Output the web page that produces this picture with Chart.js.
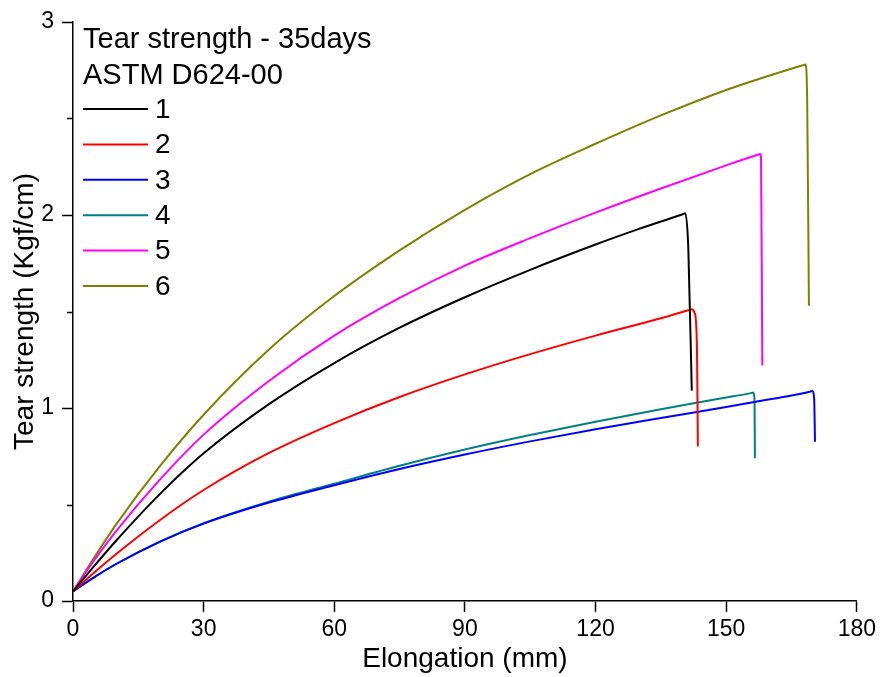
<!DOCTYPE html>
<html>
<head>
<meta charset="utf-8">
<script src="https://cdn.jsdelivr.net/npm/chart.js@4/dist/chart.umd.min.js"></script>
<style>
    html, body { margin: 0; padding: 0; background: #fff; }
    #wrap { width: 880px; height: 677px; }
</style>
</head>
<body>
<div id="wrap"><canvas id="tearChart"></canvas></div>
<script>
// Values (elongation mm / tear strength Kgf/cm)
const legendTitle = ['Tear strength - 35days', 'ASTM D624-00'];
const seriesNames = ['1', '2', '3', '4', '5', '6'];
const seriesColors = ['#000000', '#ff0000', '#0000ff', '#008080', '#ff00ff', '#808000'];

const xTicks = [0, 30, 60, 90, 120, 150, 180];
const yTicks = [0, 1, 2, 3];
const yMinorTicks = [0.5, 1.5, 2.5];

const elong1 = [0, 5, 10, 20, 30, 45, 60, 75, 90, 105, 120, 130, 140.0, 140.6, 141.3, 142.1];
const tear1  = [0.05, 0.185, 0.315, 0.555, 0.765, 1.02, 1.233, 1.416, 1.574, 1.716, 1.847, 1.928, 2.004, 2.009, 1.83, 1.09];

const elong2 = [0, 5, 10, 20, 30, 45, 60, 75, 90, 105, 120, 135, 141.5, 142.1, 142.8, 143.3, 143.5];
const tear2  = [0.05, 0.15, 0.245, 0.42, 0.575, 0.767, 0.922, 1.057, 1.174, 1.279, 1.375, 1.465, 1.508, 1.512, 1.49, 1.30, 0.80];

const elong3 = [0, 5, 10, 20, 30, 45, 60, 75, 90, 105, 120, 135, 150, 160, 169.2, 169.8, 170.2, 170.4];
const tear3  = [0.05, 0.125, 0.193, 0.308, 0.401, 0.51, 0.60, 0.684, 0.759, 0.827, 0.890, 0.948, 1.005, 1.045, 1.084, 1.088, 1.05, 0.825];

const elong4 = [0, 5, 10, 20, 30, 45, 60, 75, 90, 105, 120, 135, 150, 155.6, 156.2, 156.5, 156.6];
const tear4  = [0.05, 0.125, 0.193, 0.308, 0.403, 0.515, 0.608, 0.701, 0.785, 0.86, 0.929, 0.994, 1.054, 1.077, 1.08, 1.05, 0.74];

const elong5 = [0, 5, 10, 20, 30, 45, 60, 75, 90, 105, 120, 135, 150, 157.2, 157.8, 158.0, 158.3];
const tear5  = [0.05, 0.215, 0.365, 0.63, 0.862, 1.14, 1.375, 1.570, 1.738, 1.88, 2.012, 2.137, 2.257, 2.312, 2.316, 2.30, 1.22];

const elong6 = [0, 5, 10, 20, 30, 45, 60, 75, 90, 105, 120, 135, 150, 160, 167.6, 168.2, 168.6, 169.0];
const tear6  = [0.05, 0.23, 0.40, 0.70, 0.965, 1.303, 1.58, 1.817, 2.027, 2.212, 2.369, 2.516, 2.648, 2.723, 2.776, 2.78, 2.60, 1.53];

const elongAll = [elong1, elong2, elong3, elong4, elong5, elong6];
const tearAll = [tear1, tear2, tear3, tear4, tear5, tear6];

const FONT = '"Liberation Sans", Arial, sans-serif';

const datasets = seriesNames.map((name, s) => ({
    label: name,
    data: elongAll[s].map((x, i) => ({ x: x, y: tearAll[s][i] })),
    borderColor: seriesColors[s],
    backgroundColor: seriesColors[s],
    borderWidth: 2,
    pointRadius: 0,
    fill: false,
    cubicInterpolationMode: 'monotone'
}));

// Short minor ticks on the y axis (Chart.js has one tick length per axis)
const minorTicks = {
    id: 'minorTicks',
    afterDraw(chart) {
        const c = chart.ctx;
        const ys = chart.scales.y;
        c.save();
        c.strokeStyle = '#000';
        c.lineWidth = 1.5;
        yMinorTicks.forEach(v => {
            const py = Math.round(ys.getPixelForValue(v)) + 0.5;
            c.beginPath();
            c.moveTo(ys.right - 6, py);
            c.lineTo(ys.right, py);
            c.stroke();
        });
        c.restore();
    }
};

// Legend block drawn inside the plot, top-left
const insideLegend = {
    id: 'insideLegend',
    afterDraw(chart) {
        const c = chart.ctx;
        const left = chart.chartArea.left;
        c.save();
        c.fillStyle = '#000';
        c.font = '29px ' + FONT;
        c.textAlign = 'left';
        c.textBaseline = 'alphabetic';
        c.fillText(legendTitle[0], left + 10, 48);
        c.fillText(legendTitle[1], left + 10, 84);
        c.font = '28px ' + FONT;
        seriesNames.forEach((name, i) => {
            const y = 109 + i * 35.4;
            c.strokeStyle = seriesColors[i];
            c.lineWidth = 2;
            c.beginPath();
            c.moveTo(left + 10, y);
            c.lineTo(left + 75, y);
            c.stroke();
            c.textBaseline = 'middle';
            c.fillText(name, left + 82, y + 1);
        });
        c.restore();
    }
};

new Chart(document.getElementById('tearChart'), {
    type: 'line',
    data: { datasets: datasets },
    options: {
        responsive: true,
        maintainAspectRatio: false,
        animation: false,
        layout: { padding: { top: 22, right: 22, left: 0, bottom: 0 } },
        plugins: {
            legend: { display: false },
            tooltip: { enabled: false }
        },
        scales: {
            x: {
                type: 'linear',
                min: 0,
                max: 180,
                afterFit: scale => { scale.height = 76; },
                afterBuildTicks: scale => { scale.ticks = xTicks.map(v => ({ value: v })); },
                ticks: {
                    color: '#000',
                    font: { family: FONT, size: 23 },
                    padding: 4,
                    maxRotation: 0
                },
                grid: {
                    drawOnChartArea: false,
                    drawTicks: true,
                    tickLength: 11,
                    tickColor: '#000',
                    tickWidth: 1.5
                },
                border: { display: true, color: '#000', width: 1.5 },
                title: {
                    display: true,
                    text: 'Elongation (mm)',
                    color: '#000',
                    font: { family: FONT, size: 28 },
                    padding: { top: 0, bottom: 1 }
                }
            },
            y: {
                type: 'linear',
                min: 0,
                max: 3,
                afterFit: scale => { scale.width = 73; },
                afterBuildTicks: scale => { scale.ticks = yTicks.map(v => ({ value: v })); },
                ticks: {
                    color: '#000',
                    font: { family: FONT, size: 23 },
                    padding: 8
                },
                grid: {
                    drawOnChartArea: false,
                    drawTicks: true,
                    tickLength: 11,
                    tickColor: '#000',
                    tickWidth: 1.5
                },
                border: { display: true, color: '#000', width: 1.5 },
                title: {
                    display: true,
                    text: 'Tear strength (Kgf/cm)',
                    color: '#000',
                    font: { family: FONT, size: 28 },
                    padding: { top: 8, bottom: 0 }
                }
            }
        }
    },
    plugins: [minorTicks, insideLegend]
});
</script>
</body>
</html>
